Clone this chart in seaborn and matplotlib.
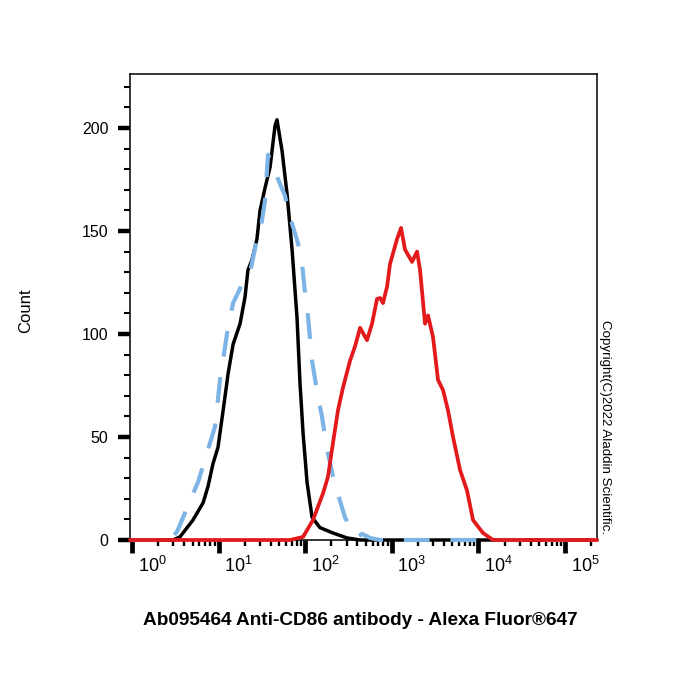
import numpy as np
import pandas as pd
import matplotlib
matplotlib.use("Agg")
import matplotlib.pyplot as plt
import matplotlib.transforms as mtransforms
from matplotlib.ticker import FixedLocator, LogLocator, NullFormatter, FixedFormatter
import seaborn as sns

# ---------------- data ----------------
black_x = [0.95, 2.97, 3.58, 5.06, 6.61, 7.55, 8.61, 9.84, 11.2, 12.9, 14.7, 17.7, 20.2,
           21.8, 24.3, 27.7, 30.1, 34.4, 39.3, 44.8, 47.2, 54.0, 61.7, 70.5, 80.4, 87.1,
           94.4, 105, 120, 148, 209, 304, 430, 2.34e5]
black_y = [0, 0, 1.5, 9.7, 18, 26, 37, 45, 62, 81, 95, 105, 118,
           131, 136, 146, 160, 171, 181, 201, 204, 189, 168, 141, 108, 76,
           52, 28, 11, 6, 3.4, 1, 0, 0]

blue_x = [0.95, 2.75, 3.31, 4.68, 5.78, 6.61, 9.08, 10.4, 12.5, 14.7, 19.1, 23.1, 27.7,
          30.1, 34.4, 37.2, 42.5, 58.5, 63.3, 82.6, 91.9, 99.5, 108, 120, 141, 156, 179,
          209, 252, 288, 357, 407, 453, 560, 731, 2.34e5]
blue_y = [0, 0, 4, 19, 28, 36, 55, 78, 100, 115, 125, 130, 146,
          149, 165, 187, 181, 167, 160, 144, 134, 120, 108, 87, 69, 60, 44,
          31, 19, 11, 3.4, 1.5, 3, 1, 0, 0]

red_x = [0.95, 66.7, 94.4, 123, 161, 183, 209, 239, 273, 329, 376, 430, 517, 591, 675,
         731, 791, 881, 953, 1148, 1277, 1420, 1711, 1955, 2118, 2418, 2618, 2991,
         3415, 3899, 4452, 5090, 6134, 7380, 8660, 11300, 14750, 2.34e5]
red_y = [0, 0, 1.5, 9.7, 22.8, 30.6, 47, 63, 74, 87, 94, 103, 97, 105, 117,
         117.5, 115, 123, 134, 146, 151.5, 141, 135, 140, 131, 105, 109, 98.5,
         77.7, 72.8, 63, 50, 34, 24, 9.7, 3.4, 0, 0]

y_major = [0, 50, 100, 150, 200]
x_major = [1e0, 1e1, 1e2, 1e3, 1e4, 1e5]
x_labels = ["$10^{0}$", "$10^{1}$", "$10^{2}$", "$10^{3}$", "$10^{4}$", "$10^{5}$"]

xlabel = "Ab095464 Anti-CD86 antibody - Alexa Fluor®647"
ylabel = "Count"
copyright_txt = "Copyright(C)2022 Aladdin Scientific."

# ---------------- style ----------------
sns.set_style("ticks")
plt.rcParams["font.family"] = ["Liberation Sans", "DejaVu Sans"]
plt.rcParams["mathtext.fontset"] = "custom"
plt.rcParams["mathtext.rm"] = "Liberation Sans"
plt.rcParams["mathtext.it"] = "Liberation Sans:italic"
plt.rcParams["mathtext.bf"] = "Liberation Sans:bold"
plt.rcParams["mathtext.default"] = "rm"
plt.rcParams["text.color"] = "black"
plt.rcParams["axes.labelcolor"] = "black"
plt.rcParams["xtick.color"] = "black"
plt.rcParams["ytick.color"] = "black"
plt.rcParams["xtick.labelcolor"] = "black"
plt.rcParams["ytick.labelcolor"] = "black"

fig = plt.figure(figsize=(7, 7), dpi=100)
fig.patch.set_facecolor("white")
ax = fig.add_axes([130 / 700, 160 / 700, 467 / 700, 466 / 700])
ax.set_facecolor("white")

black_df = pd.DataFrame({"x": black_x, "y": black_y})
blue_df = pd.DataFrame({"x": blue_x, "y": blue_y})
red_df = pd.DataFrame({"x": red_x, "y": red_y})

sns.lineplot(data=black_df, x="x", y="y", ax=ax, color="black", lw=2.5,
             sort=False, estimator=None, zorder=3, clip_on=False)
sns.lineplot(data=blue_df, x="x", y="y", ax=ax, color="#7DB4E6", lw=3.0,
             linestyle=(0, (6.2, 5.0)), sort=False, estimator=None, zorder=4,
             clip_on=False)
sns.lineplot(data=red_df, x="x", y="y", ax=ax, color="#E3191C", lw=2.7,
             sort=False, estimator=None, zorder=5, clip_on=False)

ax.set_xscale("log")
ax.set_xlim(10 ** (-0.023), 10 ** 5.369)
ax.set_ylim(0, 226.2)

# spines
for s in ["left", "top", "right", "bottom"]:
    ax.spines[s].set_visible(True)
    ax.spines[s].set_color("black")
    ax.spines[s].set_linewidth(1.1)

# y ticks
ax.yaxis.set_major_locator(FixedLocator(y_major))
ax.yaxis.set_minor_locator(FixedLocator([v for v in range(0, 230, 10) if v % 50 != 0]))
ax.tick_params(axis="y", which="major", length=9, width=3.2, pad=6.5,
               labelsize=11.5, direction="out", color="black", labelcolor="black")
ax.tick_params(axis="y", which="minor", length=4.3, width=1.5, direction="out",
               color="black")

# x ticks
ax.xaxis.set_major_locator(FixedLocator(x_major))
ax.xaxis.set_major_formatter(FixedFormatter(x_labels))
ax.xaxis.set_minor_locator(LogLocator(base=10, subs=np.arange(2, 10), numticks=20))
ax.xaxis.set_minor_formatter(NullFormatter())
ax.tick_params(axis="x", which="major", length=9.5, width=3.4, pad=2,
               labelsize=13, direction="out", color="black", labelcolor="black")
ax.tick_params(axis="x", which="minor", length=4.5, width=1.7, direction="out",
               color="black")

# the reference's decade labels sit to the right of their ticks
offset = mtransforms.ScaledTranslation(20 / 100, 0, fig.dpi_scale_trans)
for lab in ax.get_xticklabels():
    lab.set_transform(lab.get_transform() + offset)

ax.set_xlabel(xlabel, fontsize=13.7, fontweight="bold", color="black")
ax.xaxis.set_label_coords((360 - 130) / 467, (540 - 612) / 466)
ax.set_ylabel(ylabel, fontsize=12, color="black")
ax.yaxis.set_label_coords((33 - 130) / 467, (540 - 311) / 466)

fig.text(605 / 700, 1 - 427 / 700, copyright_txt, rotation=-90, fontsize=9.6,
         ha="center", va="center", color="black")

fig.savefig("out.png", dpi=100, facecolor="white")
